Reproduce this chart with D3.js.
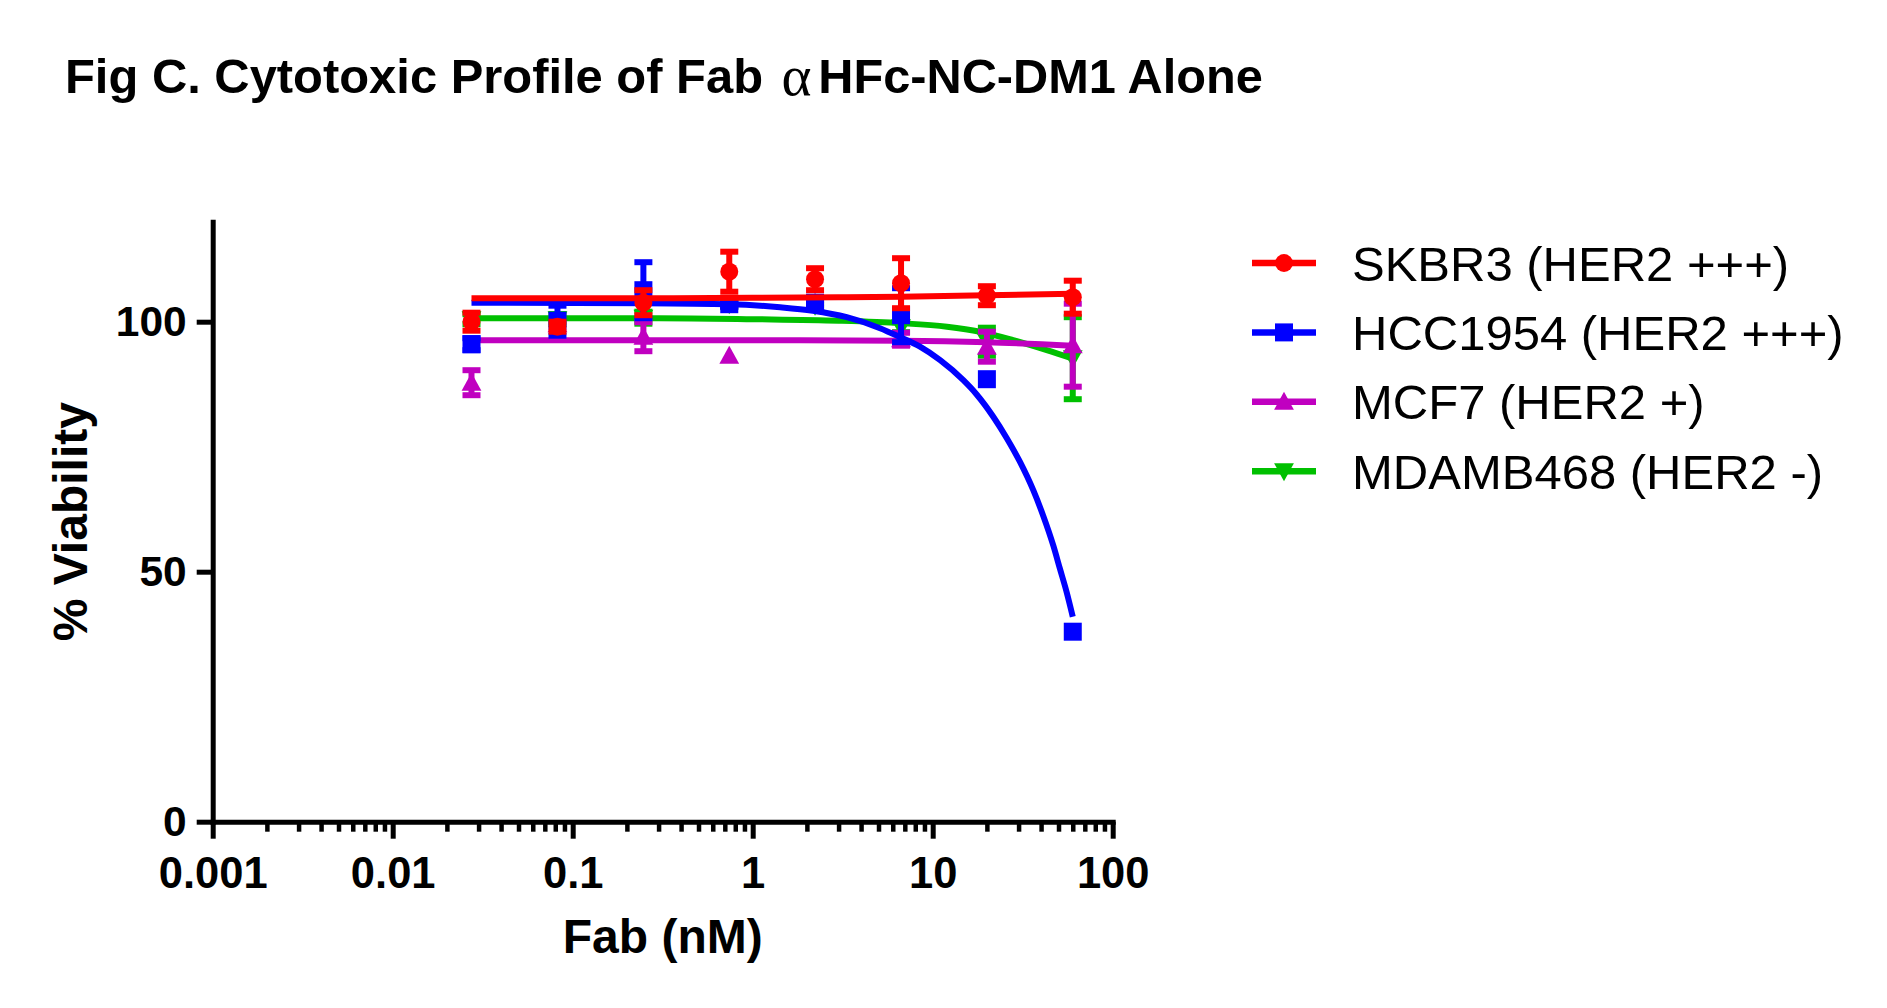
<!DOCTYPE html>
<html>
<head>
<meta charset="utf-8">
<script src="https://cdn.jsdelivr.net/npm/d3@7"></script>
<style>
  html, body { margin: 0; padding: 0; background: #fff; }
  svg { display: block; }
  text { font-family: "Liberation Sans", Arial, Helvetica, sans-serif; fill: #000; }
</style>
</head>
<body>
<div id="chart"></div>
<script>
// ---------------- DATA ----------------
const conc = [0.0274, 0.0823, 0.247, 0.741, 2.22, 6.67, 20, 60];

const seriesNames = ["SKBR3 (HER2 +++)", "HCC1954 (HER2 +++)", "MCF7 (HER2 +)", "MDAMB468 (HER2 -)"];

const skbr3Mean = [100.0, 99.0, 103.8, 110.0, 108.5, 107.7, 105.2, 104.9];
const skbr3Err  = [1.8, 1.0, 2.5, 4.0, 2.2, 5.0, 1.9, 3.3];

const hccMean = [95.5, 100.2, 106.3, 103.5, 103.8, 101.3, 88.5, 38.0];
const hccErr  = [1.2, 3.0, 5.6, 0.5, 0.5, 5.4, 0, 0];

const mcf7Mean = [87.8, 99.5, 97.0, 93.2, 103.8, 96.5, 95.0, 95.3];
const mcf7Err  = [2.5, 0, 2.9, 0, 0, 1.3, 3.0, 8.3];

const mdaMean = [100.5, 100.5, 100.8, 103.5, 103.2, 98.9, 96.0, 92.7];
const mdaErr  = [1.0, 1.0, 1.2, 0.5, 0.5, 1.0, 2.8, 8.2];

// fitted curves as [concentration, % viability]
const fitSkbr3 = [[0.0274, 104.7], [0.3, 104.7], [1, 104.8], [3, 104.9], [6.67, 105.0], [20, 105.3], [60, 105.6]];
const fitHcc = [[0.0274, 103.8], [0.25, 103.7], [0.74, 103.5], [1.42, 102.9], [2.16, 102.2], [3.33, 100.9],
                [5.1, 98.7], [6.6, 96.9], [8.5, 95.0], [11, 92.3], [14.8, 88.3], [17.5, 85.5], [21.7, 81.0],
                [25.8, 76.7], [30.5, 72.0], [36.2, 66.3], [41.1, 61.2], [46.8, 55.2], [50.9, 50.6], [55.5, 45.9], [60, 41.0]];
const fitMcf7 = [[0.0274, 96.3], [1, 96.3], [6.67, 96.2], [20, 95.9], [60, 95.2]];
const fitMda = [[0.0274, 100.7], [0.3, 100.7], [1, 100.5], [3, 100.2], [6.67, 99.7], [12, 99.0],
                [18.3, 98.0], [28, 96.3], [43, 94.3], [60, 92.6]];

const xMajorTicks = [0.001, 0.01, 0.1, 1, 10, 100];
const xTickLabels = ["0.001", "0.01", "0.1", "1", "10", "100"];
const yTicks = [0, 50, 100];

const titleParts = ["Fig C. Cytotoxic Profile of Fab", "\u03B1", "HFc-NC-DM1 Alone"];
const xTitle = "Fab (nM)";
const yTitle = "% Viability";

// ---------------- STYLE ----------------
const W = 1887, H = 1008;
const colors = ["#FF0000", "#0000FF", "#C000C0", "#00C000"];
const shapes = ["circle", "square", "triangleUp", "triangleDown"];
const lineW = 6;

const series = [
  { name: seriesNames[0], mean: skbr3Mean, err: skbr3Err, fit: fitSkbr3 },
  { name: seriesNames[1], mean: hccMean, err: hccErr, fit: fitHcc },
  { name: seriesNames[2], mean: mcf7Mean, err: mcf7Err, fit: fitMcf7 },
  { name: seriesNames[3], mean: mdaMean, err: mdaErr, fit: fitMda }
].map((s, i) => Object.assign(s, { color: colors[i], shape: shapes[i] }));

const svg = d3.select("#chart").append("svg")
  .attr("width", W).attr("height", H)
  .attr("viewBox", `0 0 ${W} ${H}`);

svg.append("rect").attr("width", W).attr("height", H).attr("fill", "#fff");

const x = d3.scaleLog().domain([0.001, 100]).range([212.7, 1112.7]);
const y = d3.scaleLinear().domain([0, 120]).range([821.7, 221.7]);

// marker path generator (size in px)
function markerPath(shape, s) {
  const h = s / 2;
  if (shape === "circle") {
    return `M${-h},0A${h},${h} 0 1,0 ${h},0A${h},${h} 0 1,0 ${-h},0Z`;
  }
  if (shape === "square") {
    return `M${-h},${-h}H${h}V${h}H${-h}Z`;
  }
  const tw = s * 1.1 / 2;
  if (shape === "triangleUp") {
    return `M0,${-h - 1}L${tw},${h - 1}L${-tw},${h - 1}Z`;
  }
  return `M0,${h + 1}L${tw},${-h + 1}L${-tw},${-h + 1}Z`;
}

// ---------------- TITLE ----------------
const titleG = svg.append("g");
titleG.append("text").attr("x", 65).attr("y", 92.7)
  .attr("font-size", 48).attr("font-weight", "bold")
  .attr("textLength", 698).attr("lengthAdjust", "spacingAndGlyphs")
  .text(titleParts[0]);
titleG.append("text").attr("x", 781.5).attr("y", 94.5)
  .style("font-family", "'Liberation Serif', 'Times New Roman', serif")
  .attr("font-size", 56).attr("font-weight", "normal")
  .attr("textLength", 30).attr("lengthAdjust", "spacingAndGlyphs")
  .text(titleParts[1]);
titleG.append("text").attr("x", 818.3).attr("y", 92.7)
  .attr("font-size", 48).attr("font-weight", "bold")
  .attr("textLength", 444.5).attr("lengthAdjust", "spacingAndGlyphs")
  .text(titleParts[2]);

// ---------------- AXES ----------------
const axisG = svg.append("g");

// minor x ticks
const minorTicks = [];
for (let d = -3; d < 2; d++) {
  for (let m = 2; m <= 9; m++) minorTicks.push(m * Math.pow(10, d));
}
const xMinor = axisG.append("g").attr("transform", `translate(0,${y(0)})`)
  .call(d3.axisBottom(x).tickValues(minorTicks).tickSize(10).tickFormat(""));
xMinor.select(".domain").remove();
xMinor.selectAll(".tick line").attr("stroke", "#000").attr("stroke-width", 4.5);

const xMajor = axisG.append("g").attr("transform", `translate(0,${y(0)})`)
  .call(d3.axisBottom(x).tickValues(xMajorTicks).tickSize(17).tickSizeOuter(0)
    .tickFormat((d, i) => xTickLabels[i]));
xMajor.select(".domain").attr("stroke", "#000").attr("stroke-width", 5).attr("stroke-linecap", "square");
xMajor.selectAll(".tick line").attr("stroke", "#000").attr("stroke-width", 5);
xMajor.selectAll(".tick text")
  .attr("y", 66.3).attr("dy", 0)
  .attr("font-size", 43.5).attr("font-weight", "bold")
  .style("font-family", "'Liberation Sans', Arial, sans-serif").attr("fill", "#000");

const yAxis = axisG.append("g").attr("transform", `translate(${x(0.001)},0)`)
  .call(d3.axisLeft(y).tickValues(yTicks).tickSize(16).tickSizeOuter(0).tickPadding(10));
yAxis.select(".domain").attr("stroke", "#000").attr("stroke-width", 5).attr("stroke-linecap", "square");
yAxis.selectAll(".tick line").attr("stroke", "#000").attr("stroke-width", 5);
yAxis.selectAll(".tick text")
  .attr("font-size", 42.5).attr("font-weight", "bold")
  .style("font-family", "'Liberation Sans', Arial, sans-serif").attr("fill", "#000");

// axis titles
svg.append("text")
  .attr("x", (x.range()[0] + x.range()[1]) / 2).attr("y", 953)
  .attr("text-anchor", "middle").attr("font-size", 48).attr("font-weight", "bold")
  .text(xTitle);

svg.append("text")
  .attr("transform", `translate(86.7,${(y.range()[0] + y.range()[1]) / 2}) rotate(-90)`)
  .attr("text-anchor", "middle").attr("font-size", 48).attr("font-weight", "bold")
  .text(yTitle);

// ---------------- SERIES ----------------
const line = d3.line()
  .x(d => x(d[0])).y(d => y(d[1]))
  .curve(d3.curveMonotoneX);

const plot = svg.append("g");
const drawOrder = series.slice().reverse();
drawOrder.forEach(s => {
  const g = plot.append("g");
  g.append("path").datum(s.fit)
    .attr("d", line).attr("fill", "none")
    .attr("stroke", s.color).attr("stroke-width", lineW)
    .attr("stroke-linejoin", "round");

  const pts = conc.map((c, i) => ({ c, m: s.mean[i], e: s.err[i] }));
  const eb = g.selectAll(".eb").data(pts.filter(p => p.e > 0)).enter().append("g");
  eb.append("line")
    .attr("x1", p => x(p.c)).attr("x2", p => x(p.c))
    .attr("y1", p => y(p.m + p.e)).attr("y2", p => y(p.m - p.e))
    .attr("stroke", s.color).attr("stroke-width", 6);
  [1, -1].forEach(sg => {
    eb.append("line")
      .attr("x1", p => x(p.c) - 9).attr("x2", p => x(p.c) + 9)
      .attr("y1", p => y(p.m + sg * p.e)).attr("y2", p => y(p.m + sg * p.e))
      .attr("stroke", s.color).attr("stroke-width", 6);
  });

  g.selectAll(".mk").data(pts).enter().append("path")
    .attr("transform", p => `translate(${x(p.c)},${y(p.m)})`)
    .attr("d", markerPath(s.shape, 18))
    .attr("fill", s.color);
});

// ---------------- LEGEND ----------------
const legend = svg.append("g");
const legY0 = 263, legStep = 69.4;
series.forEach((s, i) => {
  const ly = legY0 + i * legStep;
  const g = legend.append("g").attr("transform", `translate(0,${ly})`);
  g.append("line").attr("x1", 1252).attr("x2", 1316).attr("y1", 0).attr("y2", 0)
    .attr("stroke", s.color).attr("stroke-width", 6.5);
  g.append("path").attr("transform", "translate(1284,0)")
    .attr("d", markerPath(s.shape, 18)).attr("fill", s.color);
  g.append("text").attr("x", 1352).attr("y", 17.5)
    .attr("font-size", 49).text(s.name);
});
</script>
</body>
</html>
